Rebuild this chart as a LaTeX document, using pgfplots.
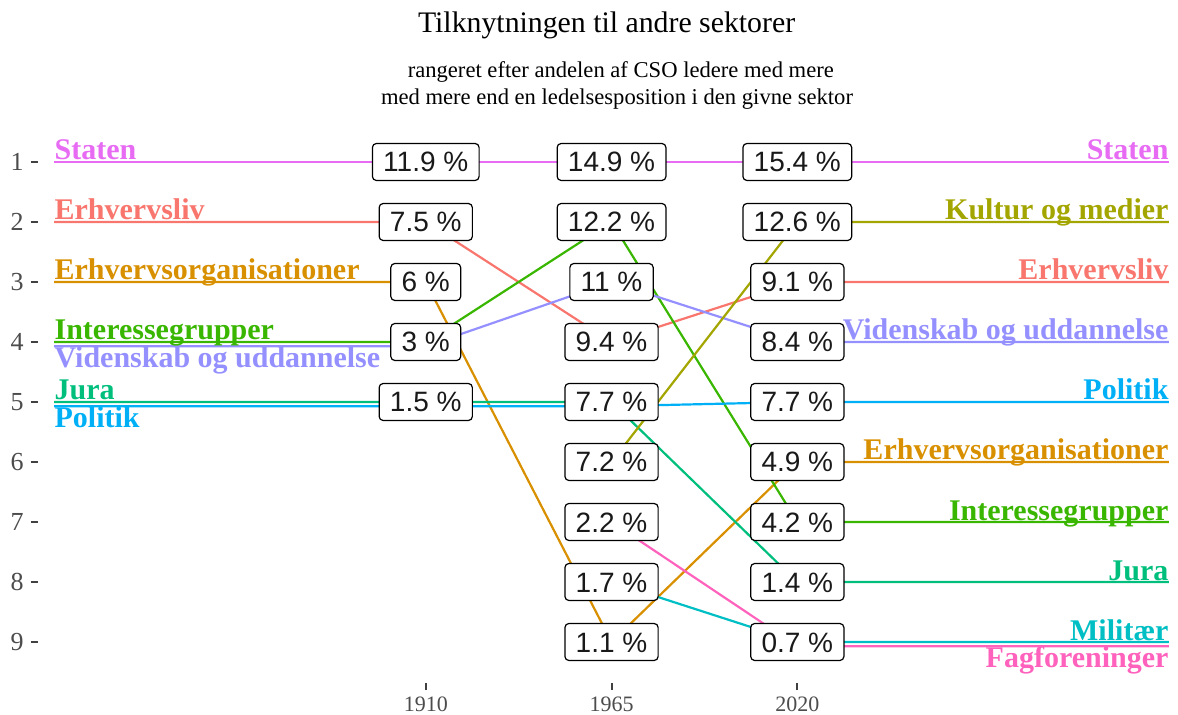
\documentclass[border=0pt]{standalone}
\usepackage{fontspec}
\setmainfont{Liberation Serif}
\setsansfont{Liberation Sans}
\usepackage{pgfplots}
\usepackage{pgfplotstable}
\pgfplotsset{compat=1.18}

% ggplot hue palette, 10 sectors
\definecolor{cErhv}{HTML}{F8766D}
\definecolor{cOrg}{HTML}{D89000}
\definecolor{cKult}{HTML}{A3A500}
\definecolor{cInt}{HTML}{39B600}
\definecolor{cJura}{HTML}{00BF7D}
\definecolor{cMil}{HTML}{00BFC4}
\definecolor{cPol}{HTML}{00B0F6}
\definecolor{cVid}{HTML}{9590FF}
\definecolor{cStat}{HTML}{E76BF3}
\definecolor{cFag}{HTML}{FF62BC}

% share (%) by rank for each year
\pgfplotstableread{
x r lab
1910 1 11.9
1910 2 7.5
1910 3 6
1910 4 3
1910 5 1.5
1965 1 14.9
1965 2 12.2
1965 3 11
1965 4 9.4
1965 5 7.7
1965 6 7.2
1965 7 2.2
1965 8 1.7
1965 9 1.1
2020 1 15.4
2020 2 12.6
2020 3 9.1
2020 4 8.4
2020 5 7.7
2020 6 4.9
2020 7 4.2
2020 8 1.4
2020 9 0.7
}\shares

\tikzset{
  seclab/.style={font=\fontsize{15bp}{15bp}\selectfont\bfseries, inner sep=0pt},
}

\begin{document}
\begin{tikzpicture}
\path[use as bounding box] (-19bp,-16.1bp) rectangle (570bp,341.4bp);
\begin{axis}[
  at={(0,0)}, anchor=south west,
  scale only axis, width=568.8bp, height=275.4bp,
  xmin=1795.2, xmax=2132, ymin=0.5, ymax=9.68,
  y dir=reverse, clip=false,
  axis line style={draw=none},
  xtick={1910,1965,2020}, xticklabels={1910,1965,2020},
  ytick={1,2,...,9}, yticklabels={1,2,3,4,5,6,7,8,9},
  xtick pos=left, ytick pos=left,
  tick align=outside, major tick length=3.7bp,
  tick style={black!75, line width=1bp},
  xticklabel style={font=\fontsize{11bp}{11bp}\selectfont, text=black!70},
  yticklabel style={font=\fontsize{13bp}{13bp}\selectfont, text=black!70},
  /pgf/number format/assume math mode=true,
  every axis plot/.append style={line width=1.1bp},
]
\addplot[cStat] coordinates {(1800,1) (1910,1) (1965,1) (2020,1) (2130,1)};
\addplot[cErhv] coordinates {(1800,2) (1910,2) (1965,4) (2020,3) (2130,3)};
\addplot[cOrg] coordinates {(1800,3) (1910,3) (1965,9) (2020,6) (2130,6)};
\addplot[cInt] coordinates {(1800,4) (1910,4) (1965,2) (2020,7) (2130,7)};
\addplot[cVid] coordinates {(1800,4.07) (1910,4.07) (1965,3) (2020,4) (2130,4)};
\addplot[cJura] coordinates {(1800,5) (1910,5) (1965,5) (2020,8) (2130,8)};
\addplot[cPol] coordinates {(1800,5.07) (1910,5.07) (1965,5.07) (2020,5) (2130,5)};
\addplot[cKult] coordinates {(1965,6) (2020,2) (2130,2)};
\addplot[cFag] coordinates {(1965,7) (2020,9.07) (2130,9.07)};
\addplot[cMil] coordinates {(1965,8) (2020,9) (2130,9)};

\addplot[draw=none, mark=none, point meta=explicit symbolic,
  nodes near coords={\pgfplotspointmeta\ \%},
  every node near coord/.style={anchor=center, draw=black, fill=white,
    line width=0.6bp, rounded corners=2bp, text=black!90,
    font=\fontsize{14bp}{14bp}\selectfont\sffamily,
    inner xsep=5.4bp, inner ysep=0pt, minimum height=18.5bp,
    text height=10bp, text depth=0bp},
] table[x=x, y=r, meta=lab] {\shares};

% sector names at the line ends
\node[seclab, cStat, anchor=base west] at (axis cs:1800,1) [yshift=1bp] {Staten};
\node[seclab, cErhv, anchor=base west] at (axis cs:1800,2) [yshift=1bp] {Erhvervsliv};
\node[seclab, cOrg, anchor=base west] at (axis cs:1800,3) [yshift=1bp] {Erhvervsorganisationer};
\node[seclab, cInt, anchor=base west] at (axis cs:1800,4) [yshift=1bp] {Interessegrupper};
\node[seclab, cVid, anchor=base west] at (axis cs:1800,4.07) [yshift=-10.5bp] {Videnskab og uddannelse};
\node[seclab, cJura, anchor=base west] at (axis cs:1800,5) [yshift=1bp] {Jura};
\node[seclab, cPol, anchor=base west] at (axis cs:1800,5.07) [yshift=-10.5bp] {Politik};

\node[seclab, cStat, anchor=base east] at (axis cs:2130,1) [yshift=1bp] {Staten};
\node[seclab, cKult, anchor=base east] at (axis cs:2130,2) [yshift=1bp] {Kultur og medier};
\node[seclab, cErhv, anchor=base east] at (axis cs:2130,3) [yshift=1bp] {Erhvervsliv};
\node[seclab, cVid, anchor=base east] at (axis cs:2130,4) [yshift=1bp] {Videnskab og uddannelse};
\node[seclab, cPol, anchor=base east] at (axis cs:2130,5) [yshift=1bp] {Politik};
\node[seclab, cOrg, anchor=base east] at (axis cs:2130,6) [yshift=1bp] {Erhvervsorganisationer};
\node[seclab, cInt, anchor=base east] at (axis cs:2130,7) [yshift=1bp] {Interessegrupper};
\node[seclab, cJura, anchor=base east] at (axis cs:2130,8) [yshift=1bp] {Jura};
\node[seclab, cMil, anchor=base east] at (axis cs:2130,9) [yshift=1bp] {Militær};
\node[seclab, cFag, anchor=base east] at (axis cs:2130,9.07) [yshift=-10.5bp] {Fagforeninger};
\end{axis}

\node[anchor=base, font=\fontsize{14.9bp}{14.9bp}\selectfont] at (284.3bp,324.9bp) {Tilknytningen til andre sektorer};
\node[anchor=base, font=\fontsize{11.3bp}{11.3bp}\selectfont] at (291.4bp,302.4bp) {rangeret efter andelen af CSO ledere med mere};
\node[anchor=base, font=\fontsize{11.3bp}{11.3bp}\selectfont] at (289.5bp,288.9bp) {med mere end en ledelsesposition i den givne sektor};
\end{tikzpicture}
\end{document}
